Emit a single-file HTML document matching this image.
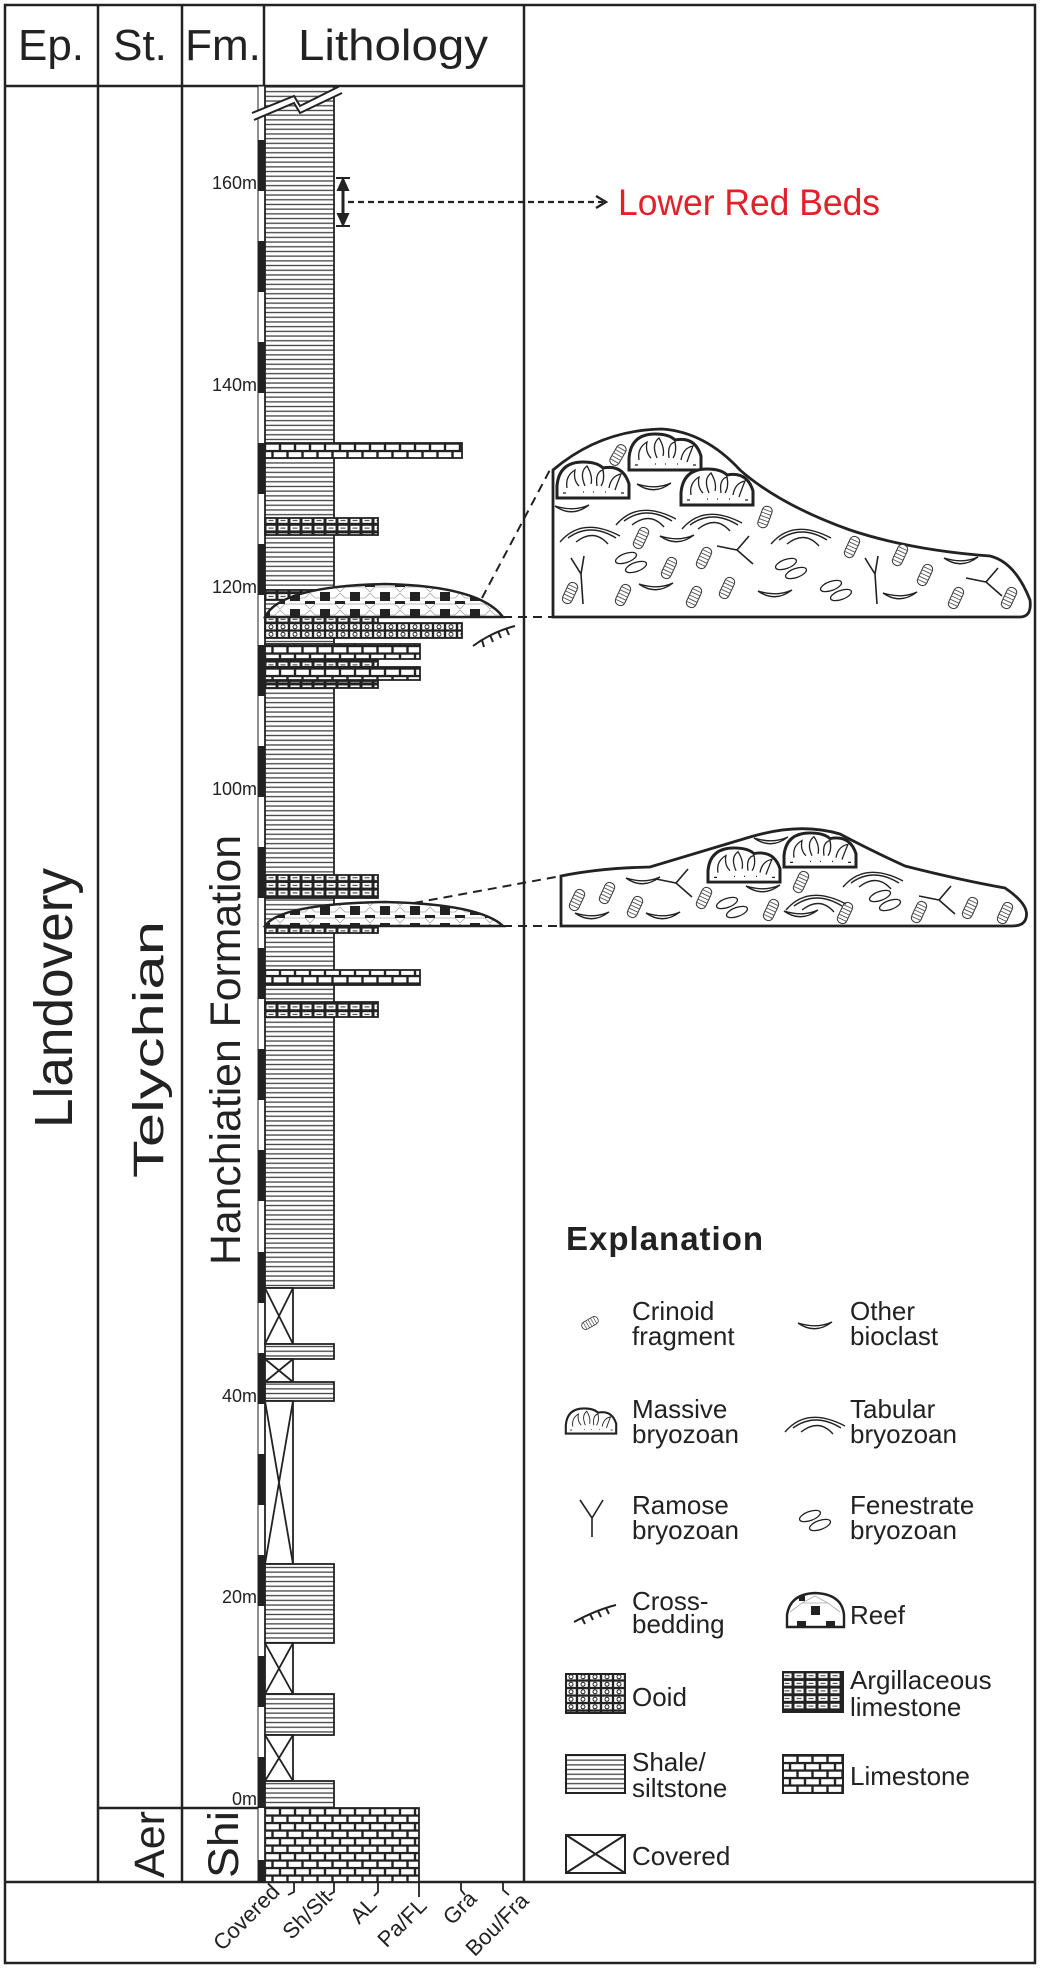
<!DOCTYPE html>
<html><head><meta charset="utf-8"><style>
html,body{margin:0;padding:0;background:#fff;}
svg{display:block;font-family:"Liberation Sans",Arial,sans-serif;}
</style></head><body>
<svg width="1040" height="1968" viewBox="0 0 1040 1968" xmlns="http://www.w3.org/2000/svg">
<defs>
<pattern id="sh" width="10" height="4.7" patternUnits="userSpaceOnUse"><rect width="10" height="4.7" fill="#fff"/><rect x="0" y="1.7" width="10" height="1.3" fill="#444"/></pattern>
<pattern id="ls" width="30" height="15" patternUnits="userSpaceOnUse" patternTransform="translate(265,1808)"><rect width="30" height="15" fill="#222"/><rect x="1.2" y="1.2" width="12.6" height="5.2" fill="#fff"/><rect x="16.2" y="1.2" width="12.6" height="5.2" fill="#fff"/><rect x="-6.3" y="8.7" width="12.6" height="5.2" fill="#fff"/><rect x="8.7" y="8.7" width="12.6" height="5.2" fill="#fff"/><rect x="23.7" y="8.7" width="12.6" height="5.2" fill="#fff"/></pattern>
<pattern id="ls2" width="30" height="15" patternUnits="userSpaceOnUse" patternTransform="translate(265,443.5)"><rect width="30" height="15" fill="#222"/><rect x="1.2" y="1.2" width="12.6" height="5.2" fill="#fff"/><rect x="16.2" y="1.2" width="12.6" height="5.2" fill="#fff"/><rect x="-6.3" y="8.7" width="12.6" height="5.2" fill="#fff"/><rect x="8.7" y="8.7" width="12.6" height="5.2" fill="#fff"/><rect x="23.7" y="8.7" width="12.6" height="5.2" fill="#fff"/></pattern>
<pattern id="al" width="24" height="7.6" patternUnits="userSpaceOnUse" patternTransform="translate(265,0)"><rect width="24" height="7.6" fill="#222"/><rect x="1.5" y="1.4" width="9" height="4.6" fill="#fff"/><rect x="13.5" y="1.4" width="9" height="4.6" fill="#fff"/><rect x="3.5" y="3.2" width="5" height="1" fill="#333"/><rect x="15.5" y="3.2" width="5" height="1" fill="#333"/></pattern>
<pattern id="oo" width="12" height="7.5" patternUnits="userSpaceOnUse" patternTransform="translate(265,623)"><rect width="12" height="7.5" fill="#222"/><rect x="1.2" y="1.2" width="9.6" height="5.2" fill="#fff"/><circle cx="6" cy="3.8" r="2" fill="none" stroke="#222" stroke-width="1"/></pattern>
<pattern id="rf" width="30" height="17" patternUnits="userSpaceOnUse" patternTransform="translate(280,584)"><rect width="30" height="17" fill="#fff"/><path d="M0,8 L5,3 M25,3 L30,8 M5,3 L25,3 M0,9 L5,14 L25,14 L30,9" stroke="#aaa" stroke-width="0.8" fill="none"/><rect x="10" y="8" width="10" height="10" fill="#222"/><rect x="-5" y="-2" width="10" height="5" fill="#222"/><rect x="25" y="-2" width="10" height="5" fill="#222"/></pattern>
<pattern id="rf2" width="30" height="17" patternUnits="userSpaceOnUse" patternTransform="translate(280,898)"><rect width="30" height="17" fill="#fff"/><path d="M0,8 L5,3 M25,3 L30,8 M5,3 L25,3 M0,9 L5,14 L25,14 L30,9" stroke="#aaa" stroke-width="0.8" fill="none"/><rect x="10" y="8" width="10" height="10" fill="#222"/><rect x="-5" y="-2" width="10" height="5" fill="#222"/><rect x="25" y="-2" width="10" height="5" fill="#222"/></pattern>
<g id="cr"><rect x="-5" y="-11" width="10" height="22" rx="4.5" fill="#fff" stroke="#333" stroke-width="1"/><path d="M-5,-7H5M-5,-3.5H5M-5,0H5M-5,3.5H5M-5,7H5" stroke="#555" stroke-width="0.9"/></g>
<path id="bc" d="M-17,-4 Q0,8 17,-5 Q2,2 -17,-4Z" fill="#fff" stroke="#222" stroke-width="1.4"/>
<g id="tb" fill="none" stroke="#222" stroke-width="1.4"><path d="M-30,12 Q-8,-14 30,6"/><path d="M-22,8 Q0,-8 26,8"/><path d="M-14,12 Q4,-2 18,14"/></g>
<g id="fe" fill="#fff" stroke="#222" stroke-width="1.3"><ellipse cx="-5" cy="-4" rx="11" ry="4.5" transform="rotate(-20 -5 -4)"/><ellipse cx="5" cy="5" rx="11" ry="4.5" transform="rotate(-20 5 5)"/></g>
<g id="ry" fill="none" stroke="#222" stroke-width="1.6"><path d="M-9,-22 L1,-6 L4,-24 M1,-6 L3,24"/></g>
<g id="ry2" fill="none" stroke="#222" stroke-width="1.6"><path d="M-20,-4 L0,0 L12,-14 M0,0 L16,14"/></g>
<g id="mb"><path d="M-36,18 L-36,6 Q-34,-18 -10,-18 Q4,-18 10,-12 Q30,-16 36,4 L36,18 Z" fill="#fff" stroke="#222" stroke-width="3"/><path d="M-26,8 Q-28,-4 -18,-10 Q-20,0 -14,6 M-8,6 Q-14,-8 -6,-14 Q0,-4 -2,4 M4,6 Q2,-8 10,-10 Q12,0 8,6 M16,8 Q18,-4 28,-6 Q24,4 22,10 M-30,13 h3 M-10,12 h1 M0,12 h1 M12,12 h1 M28,13 h3" fill="none" stroke="#222" stroke-width="1.3"/></g>
</defs>

<!-- frame -->
<rect x="5" y="5" width="1030" height="1958" fill="#fff" stroke="#222" stroke-width="2.5"/>
<line x1="5" y1="86" x2="524" y2="86" stroke="#222" stroke-width="2.5"/>
<line x1="5" y1="1882" x2="1035" y2="1882" stroke="#222" stroke-width="2.5"/>
<line x1="98" y1="5" x2="98" y2="1882" stroke="#222" stroke-width="2.5"/>
<line x1="182" y1="5" x2="182" y2="1882" stroke="#222" stroke-width="2.5"/>
<line x1="264" y1="5" x2="264" y2="86" stroke="#222" stroke-width="2.5"/>
<line x1="264" y1="86" x2="264" y2="1882" stroke="#222" stroke-width="1"/>
<line x1="524" y1="5" x2="524" y2="1882" stroke="#222" stroke-width="2.5"/>
<line x1="98" y1="1808" x2="264" y2="1808" stroke="#222" stroke-width="2.5"/>
<line x1="196" y1="1808" x2="256" y2="1808" stroke="#222" stroke-width="2" stroke-dasharray="9,7"/>

<!-- header -->
<g font-size="44" fill="#222">
<text x="51" y="60" text-anchor="middle">Ep.</text>
<text x="140" y="60" text-anchor="middle">St.</text>
<text x="223" y="60" text-anchor="middle">Fm.</text>
<text x="393" y="60" text-anchor="middle" textLength="190" lengthAdjust="spacingAndGlyphs">Lithology</text>
</g>

<!-- vertical labels -->
<g fill="#222">
<text transform="translate(72,1128) rotate(-90)" font-size="54" textLength="260" lengthAdjust="spacingAndGlyphs">Llandovery</text>
<text transform="translate(163,1178) rotate(-90)" font-size="43" textLength="257" lengthAdjust="spacingAndGlyphs">Telychian</text>
<text transform="translate(240,1265) rotate(-90)" font-size="43" textLength="430" lengthAdjust="spacingAndGlyphs">Hanchiatien Formation</text>
<text transform="translate(164,1878) rotate(-90)" font-size="43" textLength="67" lengthAdjust="spacingAndGlyphs">Aer</text>
<text transform="translate(238,1878) rotate(-90)" font-size="43" textLength="67" lengthAdjust="spacingAndGlyphs">Shi</text>
</g>

<!-- scale labels -->
<g font-size="18" fill="#222" text-anchor="end">
<text x="257" y="189">160m</text>
<text x="257" y="391">140m</text>
<text x="257" y="593">120m</text>
<text x="257" y="795">100m</text>
<text x="257" y="1402">40m</text>
<text x="257" y="1603">20m</text>
<text x="257" y="1805">0m</text>
</g>

<!-- black/white bar -->
<rect x="258" y="86" width="7" height="1796" fill="#fff" stroke="#222" stroke-width="1"/>
<g fill="#222">
<rect x="258" y="140" width="7" height="51"/><rect x="258" y="241" width="7" height="51"/><rect x="258" y="342" width="7" height="51"/><rect x="258" y="443" width="7" height="51"/><rect x="258" y="544" width="7" height="51"/><rect x="258" y="645" width="7" height="51"/><rect x="258" y="746" width="7" height="51"/><rect x="258" y="847" width="7" height="51"/><rect x="258" y="948" width="7" height="51"/><rect x="258" y="1049" width="7" height="51"/><rect x="258" y="1150" width="7" height="51"/><rect x="258" y="1252" width="7" height="51"/><rect x="258" y="1353" width="7" height="51"/><rect x="258" y="1454" width="7" height="51"/><rect x="258" y="1555" width="7" height="51"/><rect x="258" y="1656" width="7" height="51"/><rect x="258" y="1757" width="7" height="51"/><rect x="258" y="1860" width="7" height="22"/>
</g>

<!-- lithology column -->
<g stroke="#222" stroke-width="1.8">
<rect x="265" y="86" width="69" height="1202" fill="url(#sh)"/>
<rect x="265" y="1288" width="28" height="56" fill="#fff"/><path d="M265,1288 L293,1344 M293,1288 L265,1344" fill="none"/>
<rect x="265" y="1344" width="69" height="15" fill="url(#sh)"/>
<rect x="265" y="1359" width="28" height="23" fill="#fff"/><path d="M265,1359 L293,1382 M293,1359 L265,1382" fill="none"/>
<rect x="265" y="1382" width="69" height="19" fill="url(#sh)"/>
<rect x="265" y="1401" width="28" height="163" fill="#fff"/><path d="M265,1401 L293,1564 M293,1401 L265,1564" fill="none"/>
<rect x="265" y="1564" width="69" height="79" fill="url(#sh)"/>
<rect x="265" y="1643" width="28" height="51" fill="#fff"/><path d="M265,1643 L293,1694 M293,1643 L265,1694" fill="none"/>
<rect x="265" y="1694" width="69" height="41" fill="url(#sh)"/>
<rect x="265" y="1735" width="28" height="46" fill="#fff"/><path d="M265,1735 L293,1781 M293,1735 L265,1781" fill="none"/>
<rect x="265" y="1781" width="69" height="27" fill="url(#sh)"/>
<rect x="265" y="1808" width="154" height="74" fill="url(#ls)"/>
<!-- beds -->
<rect x="265" y="443" width="197" height="15" fill="url(#ls2)"/>
<rect x="265" y="518" width="113" height="17" fill="url(#al)"/>
<rect x="265" y="590" width="113" height="10" fill="url(#al)"/>
<rect x="265" y="617" width="113" height="6" fill="url(#al)"/>
<rect x="265" y="623" width="197" height="15" fill="url(#oo)"/>
<rect x="265" y="644" width="155" height="15" fill="url(#ls2)"/>
<rect x="265" y="660" width="113" height="7" fill="url(#al)"/>
<rect x="265" y="667" width="155" height="13" fill="url(#ls2)"/>
<rect x="265" y="681" width="113" height="7" fill="url(#al)"/>
<rect x="265" y="875" width="113" height="23" fill="url(#al)"/>
<rect x="265" y="926" width="113" height="7" fill="url(#al)"/>
<rect x="265" y="970" width="155" height="15" fill="url(#ls2)"/>
<rect x="265" y="1002" width="113" height="15" fill="url(#al)"/>
</g>
<!-- reef lenses -->
<path d="M265,617 Q280,586 385,584 Q480,586 503,617 Z" fill="url(#rf)" stroke="#222" stroke-width="2.5"/>
<path d="M265,926 Q280,904 385,902 Q480,904 503,926 Z" fill="url(#rf2)" stroke="#222" stroke-width="2.5"/>

<!-- break symbol -->
<path d="M252,113 L294,96 L300,106 L340,86 L342,93 L300,113 L294,103 L254,120 Z" fill="#fff"/>
<path d="M252,113 L294,96 L300,106 L340,86 M254,120 L294,103 L300,113 L342,93" fill="none" stroke="#222" stroke-width="2"/>

<!-- cross-bedding -->
<path d="M473,646 Q492,632 515,626 M482,640 l2,7 M490,635 l3,7 M498,631 l3,7 M506,628 l3,7" fill="none" stroke="#222" stroke-width="2"/>

<!-- Lower red beds arrow -->
<g stroke="#222" stroke-width="2" fill="#222">
<line x1="336" y1="178" x2="350" y2="178"/><line x1="336" y1="226" x2="350" y2="226"/>
<line x1="343" y1="186" x2="343" y2="218" stroke-width="3"/>
<path d="M338,190 L343,179 L348,190 Z M338,214 L343,225 L348,214 Z"/>
<line x1="348" y1="202" x2="603" y2="202" stroke-dasharray="6,4" stroke-width="2.2"/>
<path d="M596,196 L606,202 L596,208" fill="none" stroke-width="2.4"/>
</g>
<text x="618" y="215" font-size="37" fill="#e3202a" textLength="262" lengthAdjust="spacingAndGlyphs">Lower Red Beds</text>

<!-- dashed connectors -->
<g stroke="#222" stroke-width="2" stroke-dasharray="9,6" fill="none">
<line x1="482" y1="598" x2="552" y2="466"/>
<line x1="503" y1="617" x2="552" y2="617"/>
<line x1="414" y1="903" x2="561" y2="876"/>
<line x1="503" y1="926" x2="561" y2="926"/>
</g>

<!-- detail box 1 -->
<path d="M553,617 L553,470 Q600,430 662,429 Q705,432 740,470 Q780,505 850,530 Q910,550 990,556 Q1015,562 1030,600 Q1032,617 1020,617 Z" fill="#fff" stroke="#222" stroke-width="2.8"/>
<use href="#mb" transform="translate(593,480)"/>
<use href="#mb" transform="translate(665,452)"/>
<use href="#mb" transform="translate(717,487)"/>
<g>
<use href="#cr" transform="translate(618,455) rotate(30)"/>
<use href="#cr" transform="translate(641,538) rotate(25)"/>
<use href="#cr" transform="translate(669,568) rotate(25)"/>
<use href="#cr" transform="translate(704,558) rotate(25)"/>
<use href="#cr" transform="translate(765,517) rotate(20)"/>
<use href="#cr" transform="translate(852,547) rotate(25)"/>
<use href="#cr" transform="translate(900,555) rotate(25)"/>
<use href="#cr" transform="translate(925,575) rotate(25)"/>
<use href="#cr" transform="translate(570,593) rotate(25)"/>
<use href="#cr" transform="translate(623,595) rotate(25)"/>
<use href="#cr" transform="translate(694,597) rotate(25)"/>
<use href="#cr" transform="translate(727,588) rotate(25)"/>
<use href="#cr" transform="translate(956,598) rotate(25)"/>
<use href="#cr" transform="translate(1009,598) rotate(25)"/>
<use href="#bc" transform="translate(654,488)"/>
<use href="#bc" transform="translate(572,510)"/>
<use href="#bc" transform="translate(677,540)"/>
<use href="#bc" transform="translate(656,588)"/>
<use href="#bc" transform="translate(775,595)"/>
<use href="#bc" transform="translate(900,597)"/>
<use href="#bc" transform="translate(961,562)"/>
<use href="#tb" transform="translate(590,530)"/>
<use href="#tb" transform="translate(646,513)"/>
<use href="#tb" transform="translate(712,517)"/>
<use href="#tb" transform="translate(801,532)"/>
<use href="#ry" transform="translate(580,580)"/>
<use href="#ry" transform="translate(874,580)"/>
<use href="#ry2" transform="translate(737,550)"/>
<use href="#ry2" transform="translate(986,582)"/>
<use href="#fe" transform="translate(631,562)"/>
<use href="#fe" transform="translate(791,568)"/>
<use href="#fe" transform="translate(836,590)"/>
</g>

<!-- detail box 2 -->
<path d="M561,926 L561,876 Q600,868 650,867 Q700,852 750,837 Q800,822 840,834 Q870,850 905,866 Q960,880 1005,888 Q1030,905 1026,918 Q1024,926 1012,926 Z" fill="#fff" stroke="#222" stroke-width="2.8"/>
<use href="#mb" transform="translate(744,865) scale(1,0.95)"/>
<use href="#mb" transform="translate(820,850) scale(1,0.95)"/>
<g>
<use href="#cr" transform="translate(577,900) rotate(25)"/>
<use href="#cr" transform="translate(607,893) rotate(25)"/>
<use href="#cr" transform="translate(635,907) rotate(25)"/>
<use href="#cr" transform="translate(704,898) rotate(25)"/>
<use href="#cr" transform="translate(771,910) rotate(25)"/>
<use href="#cr" transform="translate(801,882) rotate(25)"/>
<use href="#cr" transform="translate(845,913) rotate(25)"/>
<use href="#cr" transform="translate(919,912) rotate(25)"/>
<use href="#cr" transform="translate(970,908) rotate(25)"/>
<use href="#cr" transform="translate(1005,913) rotate(25)"/>
<use href="#bc" transform="translate(592,917)"/>
<use href="#bc" transform="translate(643,882)"/>
<use href="#bc" transform="translate(663,917)"/>
<use href="#bc" transform="translate(771,842)"/>
<use href="#bc" transform="translate(763,890)"/>
<use href="#bc" transform="translate(801,915)"/>
<use href="#tb" transform="translate(816,898)"/>
<use href="#tb" transform="translate(873,875)"/>
<use href="#ry2" transform="translate(676,883)"/>
<use href="#ry2" transform="translate(939,900)"/>
<use href="#fe" transform="translate(732,907)"/>
<use href="#fe" transform="translate(885,900)"/>
</g>

<!-- Explanation -->
<text x="566" y="1250" font-size="33" font-weight="bold" fill="#222" letter-spacing="1">Explanation</text>
<g font-size="26" fill="#222">
<text x="632" y="1320">Crinoid</text><text x="632" y="1345">fragment</text>
<text x="850" y="1320">Other</text><text x="850" y="1345">bioclast</text>
<text x="632" y="1418">Massive</text><text x="632" y="1443">bryozoan</text>
<text x="850" y="1418">Tabular</text><text x="850" y="1443">bryozoan</text>
<text x="632" y="1514">Ramose</text><text x="632" y="1539">bryozoan</text>
<text x="850" y="1514">Fenestrate</text><text x="850" y="1539">bryozoan</text>
<text x="632" y="1610">Cross-</text><text x="632" y="1633">bedding</text>
<text x="850" y="1624">Reef</text>
<text x="632" y="1706">Ooid</text>
<text x="850" y="1689">Argillaceous</text><text x="850" y="1716">limestone</text>
<text x="632" y="1771">Shale/</text><text x="632" y="1797">siltstone</text>
<text x="850" y="1785">Limestone</text>
<text x="632" y="1865">Covered</text>
</g>
<!-- legend icons -->
<use href="#cr" transform="translate(590,1323) rotate(60) scale(0.8)"/>
<use href="#bc" transform="translate(815,1327)"/>
<use href="#mb" transform="translate(591,1421) scale(0.7)"/>
<use href="#tb" transform="translate(815,1420)"/>
<path d="M580,1500 L592,1518 L603,1500 M592,1518 L592,1537" fill="none" stroke="#222" stroke-width="1.6"/>
<use href="#fe" transform="translate(815,1520)"/>
<path d="M574,1622 Q596,1610 616,1605 M582,1618 l3,6 M590,1614 l3,6 M598,1611 l3,6 M606,1608 l3,6" fill="none" stroke="#222" stroke-width="2"/>
<path d="M787,1627 L787,1615 Q790,1594 815,1593 Q842,1594 844,1615 L844,1627 Z" fill="#fff" stroke="#222" stroke-width="2.4"/>
<path d="M790,1612 L802,1603 L828,1603 L840,1612 M802,1603 L815,1596 L828,1603" fill="none" stroke="#aaa" stroke-width="0.8"/>
<rect x="811" y="1606" width="9" height="9" fill="#222"/><rect x="797" y="1621" width="9" height="6" fill="#222"/><rect x="826" y="1621" width="9" height="6" fill="#222"/><rect x="799" y="1596" width="6" height="5" fill="#222"/>
<g stroke="#222" stroke-width="2">
<rect x="566" y="1674" width="59" height="39" fill="url(#oo)"/>
<rect x="783" y="1672" width="60" height="40" fill="url(#al)"/>
<rect x="566" y="1755" width="59" height="38" fill="url(#sh)"/>
<rect x="783" y="1755" width="60" height="38" fill="url(#ls)"/>
<rect x="566" y="1835" width="59" height="38" fill="#fff"/>
<path d="M566,1835 L625,1873 M625,1835 L566,1873" fill="none"/>
</g>

<!-- bottom ticks & labels -->
<g stroke="#222" stroke-width="1.8" fill="none">
<path d="M294,1882 v10 l-6,3"/><path d="M334,1882 v10 l-5,3"/><path d="M378,1882 v10 l-4,4"/><path d="M419,1882 v15"/><path d="M461,1882 v8 l4,5"/><path d="M503,1882 v8 l6,5"/>
</g>
<g font-size="22" fill="#222" text-anchor="end">
<text transform="translate(281,1893) rotate(-45)">Covered</text>
<text transform="translate(333,1899) rotate(-45)">Sh/Slt</text>
<text transform="translate(378,1906) rotate(-45)">AL</text>
<text transform="translate(428,1907) rotate(-45)">Pa/FL</text>
<text transform="translate(478,1900) rotate(-45)">Gra</text>
<text transform="translate(530,1902) rotate(-45)">Bou/Fra</text>
</g>
</svg>
</body></html>
